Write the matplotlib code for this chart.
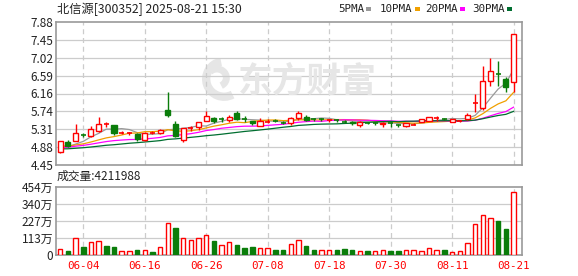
import numpy as np
import matplotlib
matplotlib.use('Agg')
import matplotlib.pyplot as plt
from matplotlib.patches import Rectangle, Arc

plt.rcParams['font.family'] = ['Noto Sans CJK SC', 'DejaVu Sans']

# ---------------- data ----------------
dates = ['05-29', '05-30', '06-03', '06-04', '06-05', '06-06', '06-09', '06-10', '06-11', '06-12',
         '06-13', '06-16', '06-17', '06-18', '06-19', '06-20', '06-23', '06-24', '06-25', '06-26',
         '06-27', '06-30', '07-01', '07-02', '07-03', '07-04', '07-07', '07-08', '07-09', '07-10',
         '07-11', '07-14', '07-15', '07-16', '07-17', '07-18', '07-21', '07-22', '07-23', '07-24',
         '07-25', '07-28', '07-29', '07-30', '07-31', '08-01', '08-04', '08-05', '08-06', '08-07',
         '08-08', '08-11', '08-12', '08-13', '08-14', '08-15', '08-18', '08-19', '08-20', '08-21']

opens = [4.75, 5.01, 5.03, 5.175, 5.15, 5.27, 5.42, 5.41, 5.22, 5.205,
         5.185, 5.05, 5.215, 5.22, 5.78, 5.425, 5.05, 5.325, 5.37, 5.51,
         5.57, 5.55, 5.53, 5.70, 5.55, 5.50, 5.39, 5.485, 5.515, 5.465,
         5.46, 5.57, 5.605, 5.555, 5.545, 5.52, 5.525, 5.495, 5.49, 5.40,
         5.465, 5.455, 5.43, 5.465, 5.405, 5.38, 5.415, 5.49, 5.51, 5.575,
         5.555, 5.49, 5.505, 5.545, 5.935, 5.81, 6.47, 6.63, 6.52, 6.43]
highs = [5.03, 5.05, 5.43, 5.22, 5.38, 5.59, 5.49, 5.42, 5.27, 5.25,
         5.21, 5.24, 5.26, 5.32, 6.19, 5.51, 5.34, 5.38, 5.49, 5.74,
         5.605, 5.59, 5.66, 5.74, 5.62, 5.51, 5.58, 5.55, 5.55, 5.50,
         5.605, 5.74, 5.66, 5.58, 5.57, 5.56, 5.56, 5.52, 5.50, 5.50,
         5.49, 5.48, 5.47, 5.49, 5.43, 5.46, 5.45, 5.56, 5.59, 5.62,
         5.57, 5.555, 5.53, 5.69, 6.15, 6.82, 7.01, 6.94, 6.55, 7.60]
lows = [4.74, 4.89, 5.02, 5.11, 5.13, 5.25, 5.37, 5.17, 5.19, 5.17,
        5.02, 5.03, 5.19, 5.19, 5.61, 5.13, 5.01, 5.27, 5.29, 5.50,
        5.46, 5.49, 5.49, 5.53, 5.49, 5.41, 5.38, 5.45, 5.49, 5.43,
        5.41, 5.53, 5.51, 5.51, 5.51, 5.49, 5.48, 5.46, 5.40, 5.37,
        5.44, 5.42, 5.35, 5.35, 5.37, 5.35, 5.40, 5.48, 5.50, 5.51,
        5.52, 5.48, 5.49, 5.54, 5.725, 5.77, 6.35, 6.35, 6.20, 6.20]
closes = [5.02, 4.91, 5.21, 5.165, 5.325, 5.43, 5.425, 5.21, 5.225, 5.21,
          5.07, 5.22, 5.22, 5.30, 5.66, 5.145, 5.33, 5.335, 5.49, 5.62,
          5.50, 5.545, 5.59, 5.55, 5.545, 5.45, 5.50, 5.495, 5.505, 5.46,
          5.57, 5.69, 5.54, 5.545, 5.54, 5.53, 5.52, 5.49, 5.45, 5.48,
          5.46, 5.45, 5.46, 5.46, 5.40, 5.45, 5.425, 5.55, 5.59, 5.585,
          5.55, 5.55, 5.515, 5.64, 5.945, 6.46, 6.70, 6.62, 6.33, 7.60]
# volume in 万 shares
volumes_wan = [38, 29, 111, 53, 86, 93, 60, 53, 24, 24,
               33, 33, 20, 51, 213, 182, 111, 100, 111, 131,
               95, 64, 86, 66, 47, 53, 44, 44, 33, 33,
               73, 100, 60, 33, 31, 31, 33, 40, 33, 24,
               27, 24, 33, 27, 27, 33, 33, 29, 49, 33,
               31, 22, 29, 78, 204, 270, 250, 224, 173, 421.1988]
vol_up = [1, 0, 1, 0, 1, 1, 0, 0, 1, 1,
          0, 1, 0, 1, 1, 0, 1, 1, 1, 1,
          0, 1, 1, 0, 0, 0, 1, 1, 0, 0,
          1, 1, 0, 0, 1, 1, 0, 0, 0, 1,
          0, 1, 1, 0, 0, 1, 1, 1, 1, 1,
          0, 1, 1, 1, 1, 1, 1, 0, 0, 1]
# closes before the first visible day (feed the moving averages)
prior_closes = [4.85, 4.82, 4.78, 4.80, 4.83, 4.79, 4.81,
                4.70, 4.66, 4.68, 4.72, 4.75, 4.78, 4.76, 4.79, 4.80, 4.76,
                4.95, 4.98, 5.02, 4.96, 4.92, 4.90, 4.88, 4.93, 4.94, 4.90, 4.84, 4.78]

ma_periods = [5, 10, 20, 30]
ma_labels = ['5PMA', '10PMA', '20PMA', '30PMA']
ma_colors = ['#999999', '#f0a000', '#ff00ff', '#006e30']

price_tick_labels = ['4.45', '4.88', '5.31', '5.74', '6.16', '6.59', '7.02', '7.45', '7.88']
price_min, price_max = 4.45, 7.88
vol_tick_labels = ['0', '113万', '227万', '340万', '454万']
vol_max_wan = 454
xtick_dates = ['06-04', '06-16', '06-26', '07-08', '07-18', '07-30', '08-11', '08-21']

title = '北信源[300352] 2025-08-21 15:30'
vol_title = '成交量:4211988'

# ---------------- styling ----------------
RED = '#ff0000'
GREEN = '#0a7d0a'
FRAME = '#999999'
GRID = '#cccccc'
TXT = '#222222'
WM = '#e6e6e6'

W, H = 578, 276
fig = plt.figure(figsize=(W / 100, H / 100), dpi=100)
fig.patch.set_facecolor('white')

def frac(x0, y0, x1, y1):
    return [x0 / W, 1 - y1 / H, (x1 - x0) / W, (y1 - y0) / H]

ax = fig.add_axes(frac(56, 22, 522, 165))
axv = fig.add_axes(frac(56, 187, 522, 255))

n = len(closes)
idx = np.arange(n)
xpos = [dates.index(d) for d in xtick_dates]

for a in (ax, axv):
    a.set_xlim(-0.55, n + 0.1)
    for s in a.spines.values():
        s.set_color(FRAME)
        s.set_linewidth(1.2)
    a.tick_params(length=0, labelsize=8.5, colors=TXT, pad=2)
    for xp in xpos:
        a.axvline(xp, color=GRID, lw=0.9, ls=(0, (4, 3)), zorder=0)

# price grid
pticks = np.linspace(price_min, price_max, len(price_tick_labels))
ax.set_ylim(price_min, price_max)
ax.set_yticks(pticks)
ax.set_yticklabels(price_tick_labels)
for p in pticks[1:-1]:
    ax.axhline(p, color=GRID, lw=0.9, zorder=0)
ax.set_xticks([])

# watermark (logo swirl + text)
wm_ax = fig.add_axes(frac(198, 58, 240, 102), facecolor='none')
wm_ax.set_xlim(0, 1)
wm_ax.set_ylim(0, 1)
wm_ax.axis('off')
wm_ax.add_patch(Arc((0.62, 0.52), 0.85, 0.8, theta1=100, theta2=300, color=WM, lw=6))
wm_ax.add_patch(Arc((0.45, 0.55), 0.45, 0.4, theta1=-60, theta2=140, color=WM, lw=5))
wm_ax.set_zorder(-1)
ax.set_zorder(1)
ax.patch.set_alpha(0)
ax.text(0.54, 0.585, '东方财富', transform=ax.transAxes, fontsize=25, fontweight='bold',
        color=WM, ha='center', va='center', zorder=0.5,
        family=['Noto Sans CJK SC'])

# moving averages
allc = np.array(prior_closes + closes)
for per, col in zip(ma_periods, ma_colors):
    ma = np.convolve(allc, np.ones(per) / per, mode='valid')[-n:]
    ax.plot(idx, ma, color=col, lw=0.9, zorder=2)

# candles
bw = 0.66
for i in range(n):
    o, h, l, c = opens[i], highs[i], lows[i], closes[i]
    up = c >= o
    col = RED if up else GREEN
    top, bot = max(o, c), min(o, c)
    if top - bot < 0.012:
        ax.vlines(i, l, h, color=col, lw=1, zorder=3)
        ax.hlines((o + c) / 2, i - bw / 2, i + bw / 2, color=col, lw=1.2, zorder=3)
        continue
    if up:
        ax.vlines(i, top, h, color=col, lw=1, zorder=3)
        ax.vlines(i, l, bot, color=col, lw=1, zorder=3)
        ax.add_patch(Rectangle((i - bw / 2, bot), bw, top - bot, facecolor='white',
                               edgecolor=col, lw=1, zorder=4))
    else:
        ax.vlines(i, l, h, color=col, lw=1, zorder=3)
        ax.add_patch(Rectangle((i - bw / 2, bot), bw, top - bot, facecolor=col,
                               edgecolor=col, lw=1, zorder=4))

# volume
vticks = np.linspace(0, vol_max_wan, len(vol_tick_labels))
axv.set_ylim(0, vol_max_wan)
axv.set_yticks(vticks)
axv.set_yticklabels(vol_tick_labels)
for v in vticks[1:-1]:
    axv.axhline(v, color=GRID, lw=0.9, zorder=0)
vbw = 0.58
for i in range(n):
    if vol_up[i]:
        axv.bar(i, volumes_wan[i], width=vbw, facecolor='white', edgecolor=RED, lw=1, zorder=3)
    else:
        axv.bar(i, volumes_wan[i], width=vbw, facecolor=GREEN, edgecolor=GREEN, lw=1, zorder=3)
axv.set_xticks(xpos)
axv.set_xticklabels(xtick_dates, family='DejaVu Sans Mono', fontsize=7.8, color=RED)
axv.tick_params(axis='x', pad=4)

# texts
fig.text(57 / W, 1 - 9 / H, title, fontsize=8.8, color=TXT, va='center', ha='left')
fig.text(57 / W, 1 - 176.5 / H, vol_title, fontsize=8.5, color=TXT, va='center', ha='left')

legend_x = [338, 380, 425, 472]
for lx, lab, col in zip(legend_x, ma_labels, ma_colors):
    fig.text(lx / W, 1 - 9 / H, lab, fontsize=7.8, color=TXT, va='center', ha='left',
             family='DejaVu Sans Mono')
    sw = len(lab) * 6.3
    fig.patches.append(Rectangle(((lx + sw + 3) / W, 1 - 11 / H), 5 / W, 4 / H,
                                 transform=fig.transFigure, facecolor=col, edgecolor='none'))

fig.savefig('out.png', dpi=100, facecolor='white')
